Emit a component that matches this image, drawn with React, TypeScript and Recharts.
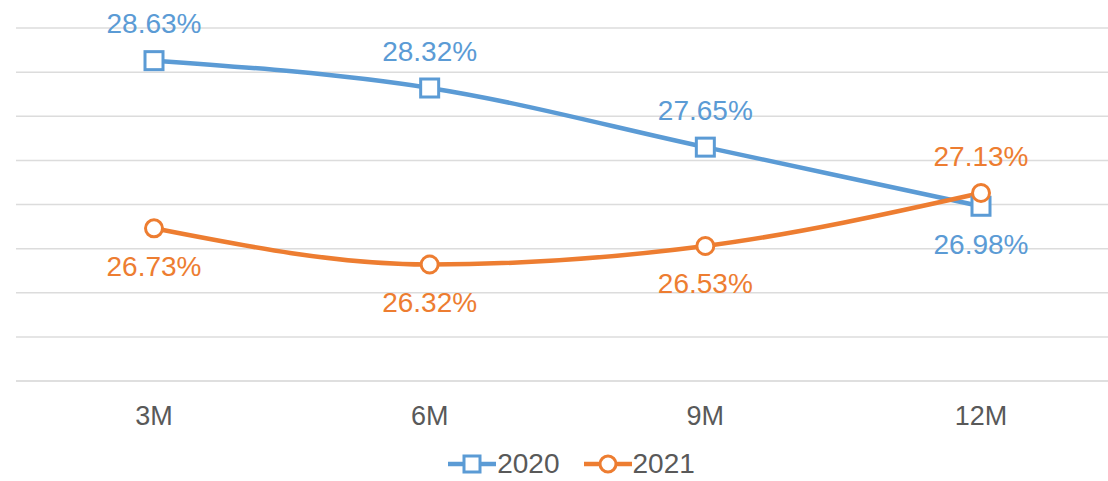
import { LineChart, Line, XAxis, YAxis, CartesianGrid, Legend, LabelList } from 'recharts';

const months = ['3M', '6M', '9M', '12M'];
const rate2020 = [28.63, 28.32, 27.65, 26.98];
const rate2021 = [26.73, 26.32, 26.53, 27.13];
const yTicks = [25, 25.5, 26, 26.5, 27, 27.5, 28, 28.5, 29];
// where each data label sits relative to its point
const labelSide2020 = ['top', 'top', 'top', 'bottom'];
const labelSide2021 = ['bottom', 'bottom', 'bottom', 'top'];

const BLUE = '#5B9BD5';
const ORANGE = '#ED7D31';
const GREY = '#595959';
const FONT = 'Liberation Sans, Arial, sans-serif';

const data = months.map((m, i) => ({ month: m, y2020: rate2020[i], y2021: rate2021[i] }));

const makeLabel = (color: string, sides: string[]) => (props: any) => {
  const { x, y, value, index } = props;
  const up = sides[index] === 'top';
  return (
    <text
      x={x}
      y={up ? y - 37 : y + 38}
      fill={color}
      fontSize={28}
      textAnchor="middle"
      dominantBaseline="central"
      fontFamily={FONT}
    >
      {value.toFixed(2)}%
    </text>
  );
};

const SquareDot = (props: any) => {
  const { cx, cy } = props;
  return <rect x={cx - 9} y={cy - 9} width={18} height={18} fill="#fff" stroke={BLUE} strokeWidth={3} />;
};

const CircleDot = (props: any) => {
  const { cx, cy } = props;
  return <circle cx={cx} cy={cy} r={8.5} fill="#fff" stroke={ORANGE} strokeWidth={3} />;
};

const LegendBox = () => (
  <div style={{ display: 'flex', justifyContent: 'center', alignItems: 'center', gap: 24, fontFamily: FONT, fontSize: 28, lineHeight: '32px', color: GREY, paddingLeft: 8, height: 34 }}>
    <span style={{ display: 'flex', alignItems: 'center' }}>
      <svg width={48} height={22}>
        <line x1={0} y1={11} x2={48} y2={11} stroke={BLUE} strokeWidth={4.5} />
        <rect x={16} y={3} width={16} height={16} fill="#fff" stroke={BLUE} strokeWidth={3} />
      </svg>
      <span style={{ marginLeft: 1 }}>2020</span>
    </span>
    <span style={{ display: 'flex', alignItems: 'center' }}>
      <svg width={48} height={22}>
        <line x1={0} y1={11} x2={48} y2={11} stroke={ORANGE} strokeWidth={4.5} />
        <circle cx={24} cy={11} r={8} fill="#fff" stroke={ORANGE} strokeWidth={3} />
      </svg>
      <span style={{ marginLeft: 1 }}>2021</span>
    </span>
  </div>
);

export default function App() {
  return (
    <div style={{ position: 'absolute', left: 0, top: 0, width: 1108, height: 481, overflow: 'hidden', background: '#fff' }}>
      <LineChart width={1120} height={481} data={data} margin={{ top: 28, right: 1, left: 16, bottom: 0 }}>
        <CartesianGrid vertical={false} stroke="#dcdcdc" strokeWidth={1.5} />
        <XAxis
          dataKey="month"
          padding={{ left: 138, right: 138 }}
          axisLine={{ stroke: '#dcdcdc', strokeWidth: 1.5 }}
          tickLine={false}
          tickSize={0}
          tickMargin={25}
          height={66}
          tick={{ fill: GREY, fontSize: 27, fontFamily: FONT }}
        />
        <YAxis hide domain={[25, 29]} ticks={yTicks} />
        <Legend verticalAlign="bottom" height={34} content={<LegendBox />} />
        <Line type="monotone" dataKey="y2020" stroke={BLUE} strokeWidth={4.5} dot={<SquareDot />} activeDot={false} isAnimationActive={false}>
          <LabelList dataKey="y2020" content={makeLabel(BLUE, labelSide2020)} />
        </Line>
        <Line type="monotone" dataKey="y2021" stroke={ORANGE} strokeWidth={4.5} dot={<CircleDot />} activeDot={false} isAnimationActive={false}>
          <LabelList dataKey="y2021" content={makeLabel(ORANGE, labelSide2021)} />
        </Line>
      </LineChart>
    </div>
  );
}
